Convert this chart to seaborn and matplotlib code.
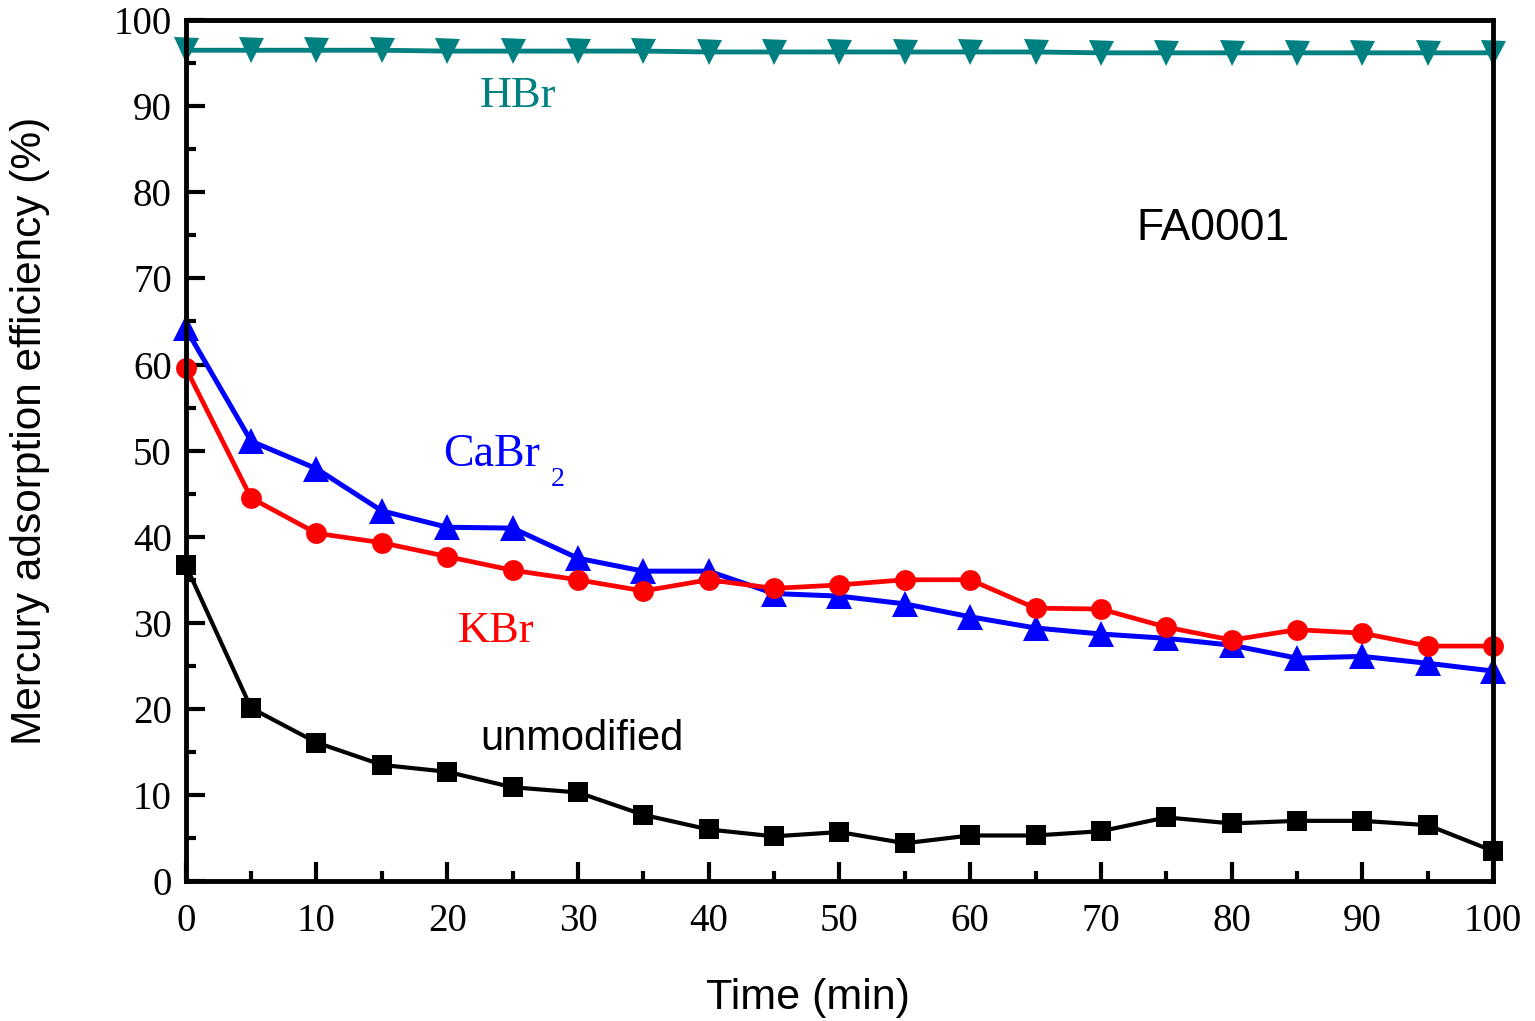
import numpy as np
import pandas as pd
import matplotlib
matplotlib.use("Agg")
import matplotlib.pyplot as plt
import seaborn as sns
from matplotlib.ticker import MultipleLocator

time_min = [0, 5, 10, 15, 20, 25, 30, 35, 40, 45, 50, 55, 60, 65, 70, 75, 80, 85, 90, 95, 100]
hbr = [96.5, 96.5, 96.5, 96.5, 96.4, 96.4, 96.4, 96.4, 96.3, 96.3, 96.3, 96.3, 96.3, 96.3, 96.2, 96.2, 96.2, 96.2, 96.2, 96.2, 96.2]
cabr2 = [64.2, 51.1, 47.9, 43.0, 41.1, 41.0, 37.5, 36.0, 36.0, 33.4, 33.1, 32.2, 30.7, 29.4, 28.7, 28.2, 27.4, 25.9, 26.1, 25.3, 24.4]
kbr = [59.6, 44.5, 40.4, 39.3, 37.7, 36.1, 35.0, 33.7, 35.0, 34.0, 34.4, 35.0, 35.0, 31.7, 31.6, 29.5, 28.0, 29.2, 28.8, 27.3, 27.3]
unmodified = [36.7, 20.1, 16.1, 13.5, 12.7, 10.9, 10.3, 7.7, 6.0, 5.2, 5.7, 4.4, 5.3, 5.3, 5.8, 7.4, 6.7, 7.0, 7.0, 6.5, 3.5]

series_names = ["HBr", "CaBr2", "KBr", "unmodified"]
series_vals = [hbr, cabr2, kbr, unmodified]
colors = {"HBr": "#008080", "CaBr2": "#0000FF", "KBr": "#FF0000", "unmodified": "#000000"}
markers = {"HBr": "v", "CaBr2": "^", "KBr": "o", "unmodified": "s"}
msizes = {"HBr": 18, "CaBr2": 19, "KBr": 15, "unmodified": 14}
lwidths = {"HBr": 3.5, "CaBr2": 3.6, "KBr": 3.4, "unmodified": 3.0}

df = pd.concat([pd.DataFrame({"time": time_min, "eff": v, "series": n})
                for n, v in zip(series_names, series_vals)], ignore_index=True)

sns.set_theme(style="ticks")
plt.rcParams['font.family'] = ['Liberation Sans', 'DejaVu Sans']
plt.rcParams['text.color'] = 'black'
plt.rcParams['axes.labelcolor'] = 'black'
plt.rcParams['xtick.color'] = 'black'
plt.rcParams['ytick.color'] = 'black'

fig = plt.figure(figsize=(15.35, 10.21), dpi=100)
ax = fig.add_axes([0.121, 0.137, 0.8517, 0.8433])

for n in series_names:
    sub = df[df.series == n]
    sns.lineplot(data=sub, x="time", y="eff", ax=ax, color=colors[n], marker=markers[n],
                 markersize=msizes[n], markeredgewidth=0, linewidth=lwidths[n],
                 clip_on=False, legend=False)

ax.set_xlim(0, 100)
ax.set_ylim(0, 100)
ax.xaxis.set_major_locator(MultipleLocator(10))
ax.xaxis.set_minor_locator(MultipleLocator(5))
ax.yaxis.set_major_locator(MultipleLocator(10))
ax.yaxis.set_minor_locator(MultipleLocator(5))
ax.tick_params(axis='both', which='major', direction='in', length=14, width=3,
               labelsize=28, top=False, right=False)
ax.tick_params(axis='x', which='major', pad=16)
ax.tick_params(axis='y', which='major', pad=10)
ax.tick_params(axis='both', which='minor', direction='in', length=7, width=3,
               top=False, right=False)
for lab in ax.get_xticklabels() + ax.get_yticklabels():
    lab.set_fontfamily(['Liberation Serif', 'DejaVu Serif'])
for s in ax.spines.values():
    s.set_linewidth(3.5)
    s.set_color('black')

ax.set_xlabel("Time (min)", fontsize=31)
ax.set_ylabel("Mercury adsorption efficiency (%)", fontsize=30.5)
ax.xaxis.set_label_coords(0.476, -0.112)
ax.yaxis.set_label_coords(-0.104, 0.523)

serif = ['Liberation Serif', 'DejaVu Serif']
ax.text(22.5, 89.9, "HBr", color="#008080", fontsize=32, family=serif)
ax.text(19.7, 48.2, "CaBr", color="#0000FF", fontsize=33, family=serif)
ax.text(27.9, 45.9, "2", color="#0000FF", fontsize=20, family=serif)
ax.text(20.8, 27.8, "KBr", color="#FF0000", fontsize=32, family=serif)
ax.text(22.5, 15.2, "unmodified", color="black", fontsize=30)
ax.text(72.7, 74.5, "FA0001", color="black", fontsize=32)

fig.savefig("out.png", dpi=100)
